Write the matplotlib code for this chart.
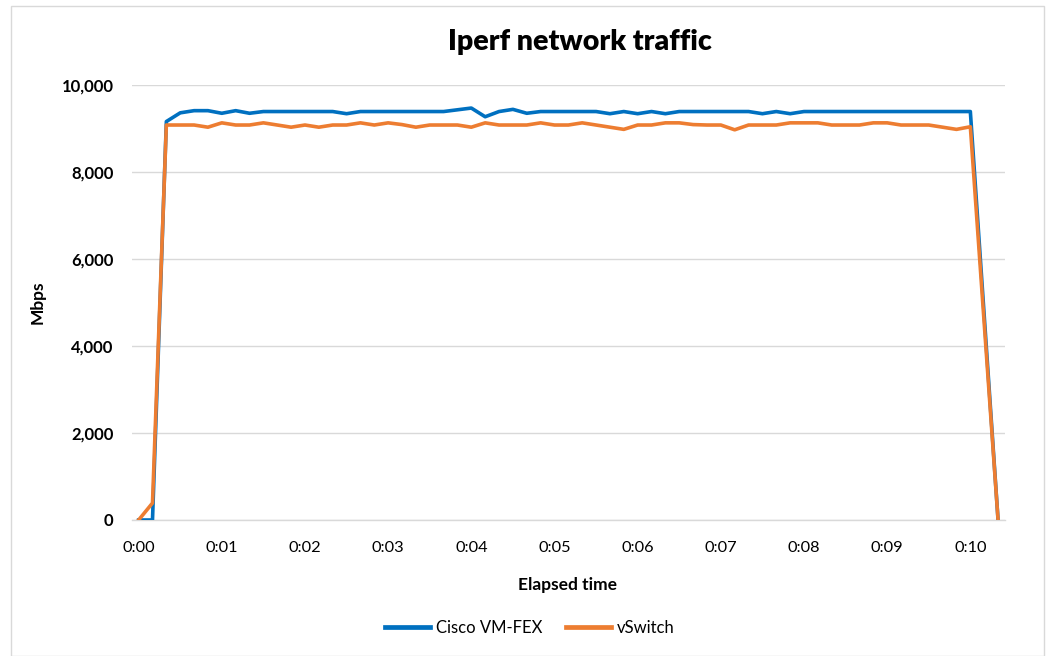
import matplotlib
matplotlib.use("Agg")
import matplotlib.pyplot as plt
from matplotlib.lines import Line2D
from matplotlib.patches import Rectangle

plt.rcParams['font.family'] = ['Lato', 'DejaVu Sans']

tick_labels = ["0:00", "0:01", "0:02", "0:03", "0:04", "0:05",
               "0:06", "0:07", "0:08", "0:09", "0:10"]

cisco_vmfex = [0, 0, 9160, 9360, 9410, 9410, 9350, 9410, 9350, 9390,
               9390, 9390, 9390, 9390, 9390, 9340, 9390, 9390, 9390, 9390,
               9390, 9390, 9390, 9430, 9470, 9270, 9390, 9440, 9350, 9390,
               9390, 9390, 9390, 9390, 9340, 9390, 9340, 9390, 9340, 9390,
               9390, 9390, 9390, 9390, 9390, 9340, 9390, 9340, 9390, 9390,
               9390, 9390, 9390, 9390, 9390, 9390, 9390, 9390, 9390, 9390,
               9390, 4700, 0]

vswitch = [0, 390, 9080, 9080, 9080, 9030, 9130, 9080, 9080, 9130,
           9080, 9030, 9080, 9030, 9080, 9080, 9130, 9080, 9130, 9090,
           9030, 9080, 9080, 9080, 9030, 9130, 9080, 9080, 9080, 9130,
           9080, 9080, 9130, 9080, 9030, 8980, 9080, 9080, 9130, 9130,
           9090, 9080, 9080, 8970, 9080, 9080, 9080, 9130, 9130, 9130,
           9080, 9080, 9080, 9130, 9130, 9080, 9080, 9080, 9030, 8980,
           9040, 4520, 0]

BLUE = "#0070C0"
ORANGE = "#ED7D31"
GRID = "#D9D9D9"

W, H = 1050, 656
fig = plt.figure(figsize=(W / 100, H / 100), dpi=100)

# chart border
fig.patches.append(Rectangle((10.5 / W, 0), (1044 - 10.5) / W, 1 - 5.5 / H,
                             transform=fig.transFigure, fill=False,
                             edgecolor="#D9D9D9", lw=1.0))

ax = fig.add_axes([131.7 / W, 1 - 520 / H, (1005 - 131.7) / W, (520 - 85) / H])

x = list(range(len(cisco_vmfex)))
ax.plot(x, cisco_vmfex, color=BLUE, lw=2.6, solid_joinstyle="round", zorder=3)
ax.plot(x, vswitch, color=ORANGE, lw=2.6, solid_joinstyle="round", zorder=4)

ax.set_xlim(-0.5, len(x) - 0.5)
ax.set_ylim(0, 10000)
yt = [0, 2000, 4000, 6000, 8000, 10000]
ax.set_yticks(yt)
ax.set_yticklabels([f"{v:,}" for v in yt], fontsize=12, fontweight="bold")
ax.set_xticks(list(range(0, 61, 6)))
ax.set_xticklabels(tick_labels, fontsize=11.8)
ax.tick_params(axis="both", length=0)
ax.tick_params(axis="x", pad=15)
ax.tick_params(axis="y", pad=13)

ax.grid(axis="y", color=GRID, lw=1.0)
ax.set_axisbelow(True)
for s in ["top", "right", "left"]:
    ax.spines[s].set_visible(False)
ax.spines["bottom"].set_color(GRID)
ax.spines["bottom"].set_linewidth(1.0)

fig.text(580 / W, 1 - 42 / H, "Iperf network traffic", fontsize=20.5,
         fontweight="heavy", ha="center", va="center")
fig.text(568 / W, 1 - 585 / H, "Elapsed time", fontsize=12.5,
         fontweight="bold", ha="center", va="center")
fig.text(38 / W, 1 - 302 / H, "Mbps", fontsize=12.5, fontweight="bold",
         rotation=90, ha="center", va="center")

handles = [Line2D([], [], color=BLUE, lw=3.4),
           Line2D([], [], color=ORANGE, lw=3.4)]
fig.legend(handles, ["Cisco VM-FEX", "vSwitch"], loc="center",
           bbox_to_anchor=(530 / W, 1 - 628 / H), ncol=2, frameon=False,
           fontsize=12, handlelength=2.7, handletextpad=0.35,
           columnspacing=1.4)

fig.savefig("out.png", dpi=100)
